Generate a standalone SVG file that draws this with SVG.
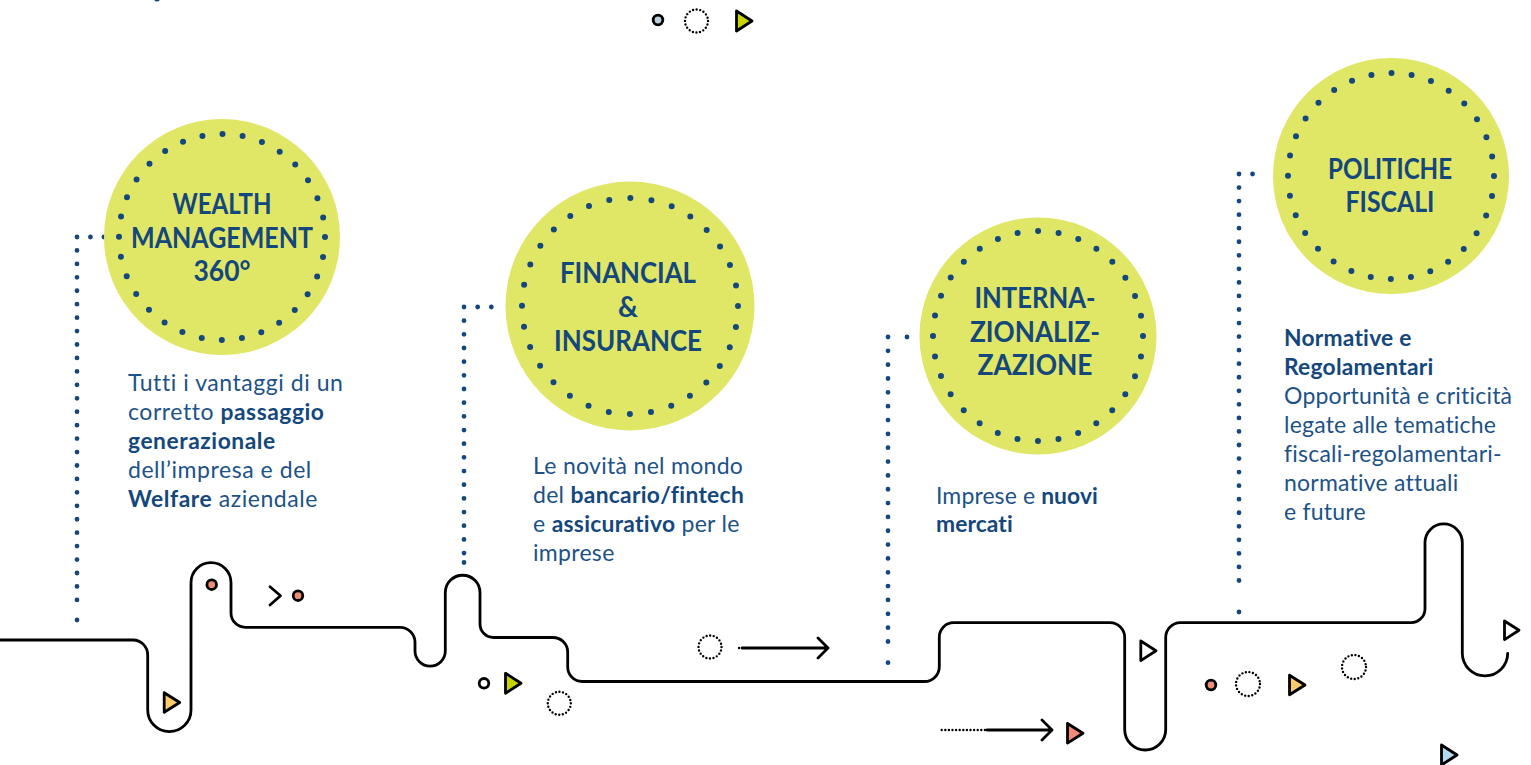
<svg xmlns="http://www.w3.org/2000/svg" width="1531" height="765" viewBox="0 0 1531 765">
<style>
.disc{fill:#e0e666}
.ring{fill:none;stroke:#14477c;stroke-width:6;stroke-linecap:round}
.lead{fill:none;stroke:#14477c;stroke-width:4.8;stroke-linecap:round}
.wire{fill:none;stroke:#000;stroke-width:2.8;stroke-linecap:round;stroke-linejoin:round}
.dot{fill:none;stroke:#000;stroke-width:2.4;stroke-linecap:round;stroke-dasharray:0 3.6}
.mk{stroke:#000;stroke-width:2.8;stroke-linejoin:round}
text{font-family:"Lato","Liberation Sans",sans-serif;fill:#14477c}
.h{font-size:29px;font-weight:700;text-anchor:middle}
.b{font-size:23px;font-weight:400;fill:#1d5288}
.b tspan.s{font-weight:700;font-size:22.800px;fill:#14477c}
</style>
<g id="connectors">
<path class="lead" stroke-dasharray="0 13.44" d="M77 237H104M77 237V600M77 620h.01"/>
<path class="lead" stroke-dasharray="0 13.67" d="M464 307H492M464 307V553.500M464 562.500h.01"/>
<path class="lead" stroke-dasharray="0 13.84" d="M888 337V655.300M888 662.700h.01M907 337h.01"/>
<path class="lead" stroke-dasharray="0 13.55" d="M1239 174H1253M1239 174V594M1239 612h.01"/>
<path class="wire" d="M0 640H133A14.700 15 0 0 1 147.700 655V710A21.650 21.650 0 0 0 191 710V582.700A20 20 0 0 1 231 582.700V613A14.300 14.300 0 0 0 245.300 627.300H400A15 15 0 0 1 415 642.300V651A15.150 15.150 0 0 0 445.300 651V592.600A17.350 17.350 0 0 1 480 592.600V624A13.500 13.500 0 0 0 493.500 637.500H553A14.700 14.500 0 0 1 567.700 652V667A14.500 14.500 0 0 0 582.200 681.500H924.500A14.800 14.800 0 0 0 939.300 666.700V637A14.300 14.300 0 0 1 953.600 622.700H1110A14.700 14.700 0 0 1 1124.700 637.400V729.500A20.500 20.500 0 0 0 1165.700 729.500V637.400A14.700 14.700 0 0 1 1180.400 622.700H1411A14 14 0 0 0 1425 608.700V542.600A18.650 18.650 0 0 1 1462.300 542.600V653.300A22.700 22.700 0 0 0 1507.700 653.300"/>
<path class="wire" d="M742 648H828M818 638L828 648L818 658"/>
<path class="wire" d="M987 730H1052M1042 720L1052 730L1042 740"/>
<path class="dot" d="M941.700 730H985" style="stroke-dasharray:0 3.600"/>
<path class="dot" d="M739 648h.01"/>
<path class="wire" d="M270 586.700L280.500 595.700L270 605"/>
</g>
<g id="node-wealth">
<circle class="disc" cx="222" cy="237" r="118"/>
<circle class="ring" cx="222" cy="237" r="103" stroke-dasharray="0 20.22"/>
<g><text class="h" x="222" y="214" textLength="99" lengthAdjust="spacingAndGlyphs">WEALTH</text><text class="h" x="222" y="248" textLength="182" lengthAdjust="spacingAndGlyphs">MANAGEMENT</text><text class="h" x="222" y="281" textLength="57" lengthAdjust="spacingAndGlyphs">360°</text></g>
<text class="b" letter-spacing=".55"><tspan x="128" y="391">Tutti i vantaggi di un</tspan><tspan x="128" y="420">corretto <tspan class="s">passaggio</tspan></tspan><tspan class="s" x="128" y="449">generazionale</tspan><tspan x="128" y="478">dell’impresa e del</tspan><tspan x="128" y="507"><tspan class="s">Welfare</tspan> aziendale</tspan></text>
</g>
<g id="node-financial">
<circle class="disc" cx="630" cy="306" r="124.500"/>
<circle class="ring" cx="630" cy="306" r="108" stroke-dasharray="0 21.2"/>
<g><text class="h" x="628" y="283" textLength="136" lengthAdjust="spacingAndGlyphs">FINANCIAL</text><text class="h" x="628" y="317" textLength="20" lengthAdjust="spacingAndGlyphs">&amp;</text><text class="h" x="628" y="351" textLength="148" lengthAdjust="spacingAndGlyphs">INSURANCE</text></g>
<text class="b" letter-spacing=".3"><tspan x="533" y="474">Le novità nel mondo</tspan><tspan x="533" y="503">del <tspan class="s">bancario/fintech</tspan></tspan><tspan x="533" y="532">e <tspan class="s">assicurativo</tspan> per le</tspan><tspan x="533" y="561">imprese</tspan></text>
</g>
<g id="node-internazionalizzazione">
<circle class="disc" cx="1038" cy="336" r="118.500"/>
<circle class="ring" cx="1038" cy="336" r="105" stroke-dasharray="0 20.6"/>
<g><text class="h" x="1035" y="308" textLength="121" lengthAdjust="spacingAndGlyphs">INTERNA-</text><text class="h" x="1035" y="342" textLength="130" lengthAdjust="spacingAndGlyphs">ZIONALIZ-</text><text class="h" x="1035" y="375" textLength="115" lengthAdjust="spacingAndGlyphs">ZAZIONE</text></g>
<text class="b" letter-spacing=".1"><tspan x="936" y="504">Imprese e <tspan class="s">nuovi</tspan></tspan><tspan class="s" x="936" y="532">mercati</tspan></text>
</g>
<g id="node-politiche">
<circle class="disc" cx="1391" cy="176" r="118"/>
<circle class="ring" cx="1391" cy="176" r="103" stroke-dasharray="0 20.22"/>
<g><text class="h" x="1390" y="179" textLength="124" lengthAdjust="spacingAndGlyphs">POLITICHE</text><text class="h" x="1390" y="212" textLength="89" lengthAdjust="spacingAndGlyphs">FISCALI</text></g>
<text class="b" letter-spacing=".22"><tspan class="s" x="1284" y="346">Normative e</tspan><tspan class="s" x="1284" y="375">Regolamentari</tspan><tspan x="1284" y="404">Opportunità e criticità</tspan><tspan x="1284" y="433">legate alle tematiche</tspan><tspan x="1284" y="462">fiscali-regolamentari-</tspan><tspan x="1284" y="491">normative attuali</tspan><tspan x="1284" y="520">e future</tspan></text>
</g>
<g id="marks">
<circle cx="157" cy="-1.500" r="3" fill="#14477c"/>
<circle class="mk" cx="658" cy="20" r="4.800" fill="#bcd0dc"/>
<circle class="dot" cx="696.500" cy="21" r="11.500"/>
<path class="mk" d="M736.500 11L752 21L736.500 31Z" fill="#c8d400"/>
<path class="mk" d="M164.200 692.700L179.700 702.500L164.200 712.300Z" fill="#fdcb6e"/>
<circle class="mk" cx="211.700" cy="584.700" r="4.800" fill="#ee8c76"/>
<circle class="mk" cx="298" cy="595.700" r="4.800" fill="#ee8c76"/>
<circle class="mk" cx="484" cy="683.300" r="4.800" fill="#fff"/>
<path class="mk" d="M505.500 673.300L521 683.300L505.500 693.300Z" fill="#c8d400"/>
<circle class="dot" cx="559.300" cy="703.300" r="11.500"/>
<circle class="dot" cx="710" cy="647" r="11.500"/>
<path class="mk" d="M1140.800 641L1156 650.800L1140.800 660.600Z" fill="#fff"/>
<path class="mk" d="M1067.500 723.500L1083 733.300L1067.500 743.100Z" fill="#ee8c76"/>
<circle class="mk" cx="1211" cy="685" r="4.800" fill="#ee8c76"/>
<circle class="dot" cx="1248" cy="684" r="12"/>
<path class="mk" d="M1289.500 675.200L1305 685L1289.500 694.800Z" fill="#fdcb6e"/>
<circle class="dot" cx="1354" cy="667" r="12"/>
<path class="mk" d="M1504.500 621L1519 630.300L1504.500 639.600Z" fill="#fff"/>
<path class="mk" d="M1441.500 745L1457 755L1441.500 765Z" fill="#b5daf0"/>
</g>
</svg>
